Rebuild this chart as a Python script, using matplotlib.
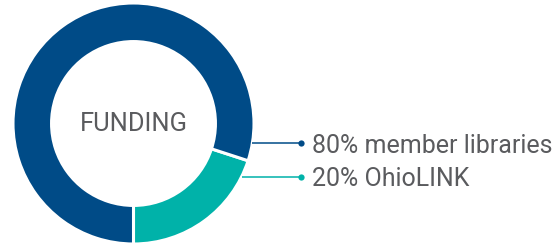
import numpy as np
import matplotlib
matplotlib.use("Agg")
import matplotlib.pyplot as plt

values = [20, 80]
labels = ["OhioLINK", "member libraries"]
colors = ["#00b2a9", "#004b87"]
center_label = "FUNDING"

W, H = 560, 246
fig = plt.figure(figsize=(W / 100, H / 100), dpi=100)
ax = fig.add_axes([0, 0, 1, 1])

cx, cy = 133.5, H - 123.5
R = 120.5
ring = 0.32

ax.pie(values, colors=colors, startangle=-90, counterclock=True,
       center=(cx, cy), radius=R, frame=True,
       wedgeprops=dict(width=R * ring, edgecolor="white", linewidth=2.2))
ax.set_xlim(0, W)
ax.set_ylim(0, H)
ax.set_aspect("equal")
ax.axis("off")

ax.text(cx, cy - 0.5, center_label, ha="center", va="center",
        fontsize=18.4, color="#5a5b5e", family="Roboto")

# legend entries: order as in reference (80% first)
rows_y = [H - 143.3, H - 176.7]
order = [1, 0]
dot_x = 301
for yy, i in zip(rows_y, order):
    dy = yy - cy
    x0 = cx + np.sqrt(R**2 - dy**2)
    ax.plot([x0, dot_x], [yy, yy], color=colors[i], lw=1.1, solid_capstyle="butt")
    ax.plot([dot_x], [yy], "o", color=colors[i], ms=4.5, mec="none")
    ax.text(312, yy - 2.5, f"{values[i]}% {labels[i]}", ha="left", va="center",
            fontsize=18, color="#5a5b5e", family="Roboto")

fig.savefig("out.png", dpi=100)
